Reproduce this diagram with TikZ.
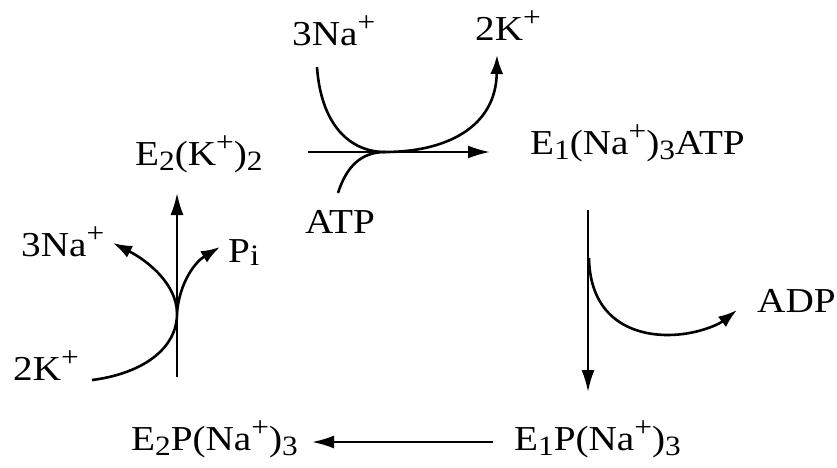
\documentclass[tikz,border=0pt]{standalone}
\usepackage{fontspec}
\setmainfont{Liberation Serif}[FakeStretch=1.12]
\usetikzlibrary{arrows.meta}
\newcommand{\lo}[1]{\raisebox{-0.15em}{\scalebox{0.8}{#1}}}
\newcommand{\hi}[1]{\raisebox{0.38em}{\scalebox{0.8}{#1}}}
\begin{document}
\begin{tikzpicture}[x=1pt,y=-1pt,
  lbl/.style={inner sep=0pt, anchor=base west, font=\fontsize{35}{40}\selectfont},
  rxn/.style={line width=2.2pt, -{Latex[length=22pt,width=13pt]}},
  side/.style={line width=2.6pt, -{Latex[length=19pt,width=13pt]}},
  tail/.style={line width=2.6pt}]
\useasboundingbox (0,0) rectangle (837,467);
\fill[white] (0,0) rectangle (837,467);
% labels
\node[lbl] (e2k) at (135,165) {E\lo{2}(K\hi{+})\lo{2}};
\node[lbl] (e1na) at (530,154) {E\lo{1}(Na\hi{+})\lo{3}ATP};
\node[lbl] (e1p) at (514,450) {E\lo{1}P(Na\hi{+})\lo{3}};
\node[lbl] (e2p) at (131,450) {E\lo{2}P(Na\hi{+})\lo{3}};
\node[lbl] (na3t) at (292,45) {3Na\hi{+}};
\node[lbl] (k2t) at (475,40) {2K\hi{+}};
\node[lbl] (atp) at (305,233) {ATP};
\node[lbl] (na3l) at (21,256) {3Na\hi{+}};
\node[lbl] (pi) at (228,262) {P\raisebox{-0.1em}{\scalebox{0.85}{i}}};
\node[lbl] (k2b) at (13,380) {2K\hi{+}};
\node[lbl] (adp) at (757,312) {ADP};
% coordinates
\coordinate (t1) at (308,152);
\coordinate (t2) at (490,152);
\coordinate (tm) at (385,152);
\coordinate (na3ts) at (317,67);
\coordinate (k2tt) at (497,55);
\coordinate (atpn) at (338,193);
\coordinate (l1) at (177,377);
\coordinate (l2) at (177,193);
\coordinate (lm) at (177,312);
\coordinate (k2be) at (92,380);
\coordinate (na3lt) at (113,243);
\coordinate (pit) at (220,247);
\coordinate (r1) at (588,210);
\coordinate (r2) at (588,392);
\coordinate (rm) at (589,258);
\coordinate (rb) at (668,335);
\coordinate (adpt) at (737,310);
\coordinate (b1) at (493,442);
\coordinate (b2) at (312,442);
% main reaction arrows
\draw[rxn] (t1) -- (t2);
\draw[rxn] (l1) -- (l2);
\draw[rxn] (r1) -- (r2);
\draw[rxn] (b1) -- (b2);
% top: 3Na+ in, 2K+ out, ATP in
\draw[side] (na3ts) .. controls (321,125) and (350,152) .. (tm)
  .. controls (445,152) and (496,128) .. (k2tt);
\draw[tail] (atpn) .. controls (346,168) and (360,152) .. (tm);
% left: 2K+ in, 3Na+ and Pi out
\draw[side] (k2be) .. controls (140,374) and (178,350) .. (lm)
  .. controls (176,285) and (150,262) .. (na3lt);
\draw[side] (lm) .. controls (180,282) and (195,262) .. (pit);
% right: ADP out
\draw[side] (rm) .. controls (590,315) and (628,335) .. (rb)
  .. controls (695,335) and (718,325) .. (adpt);
\end{tikzpicture}
\end{document}
